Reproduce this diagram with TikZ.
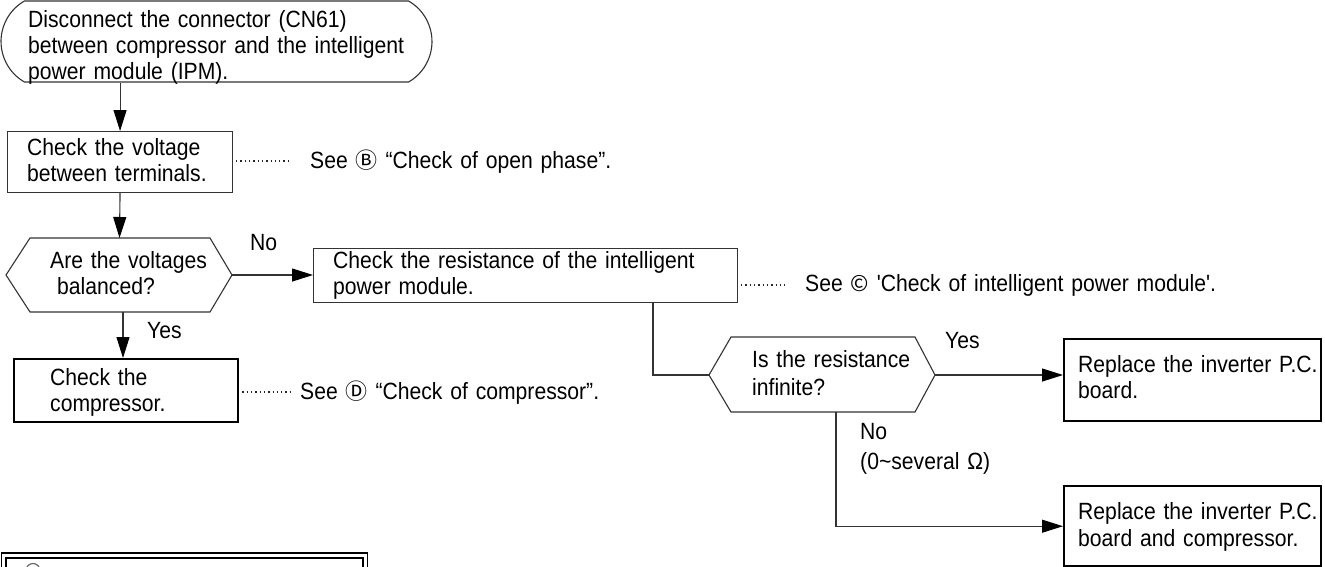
\documentclass[tikz,border=0pt]{standalone}
\usepackage{fontspec}
\newfontfamily\mainf[FakeStretch=0.9]{Liberation Sans}
\newfontfamily\symf{Noto Sans CJK SC}
\newcommand\encl[1]{{\symf\fontsize{22}{26}\selectfont #1}}
\usetikzlibrary{arrows.meta,shapes.misc}
\begin{document}
\begin{tikzpicture}[x=1pt,y=-1pt,
  ln/.style={line width=1.1pt, draw=black!80},
  thinbox/.style={ln, rectangle, inner sep=0pt, anchor=north west},
  thickbox/.style={line width=2.4pt, draw=black, rectangle, inner sep=0pt, anchor=north west},
  startbox/.style={ln, rounded rectangle, rounded rectangle arc length=120, inner sep=0pt, minimum width=431pt, minimum height=81pt},
  txt/.style={anchor=base west, inner sep=0pt, text width=#1, align=left, font=\mainf\fontsize{23.5}{26}\selectfont},
  txt/.default=260pt,
  arr/.style={ln, -{Triangle[length=21pt,width=13pt,fill=black,color=black]}},
  lead/.style={line width=1.3pt, dash pattern=on 1.3pt off 3pt, draw=black!85}
]
\useasboundingbox (0,0) rectangle (1325,566);

% start terminal
\node[startbox] (b1) at (216.5,41.5) {};
\node[txt=400pt] (t1) at (28,27) {Disconnect the connector (CN61)\\between compressor and the intelligent\\power module (IPM).};

% check voltage
\node[thinbox, minimum width=225pt, minimum height=61pt] (b2) at (7,131) {};
\node[txt] (t2) at (27,155) {Check the voltage\\between terminals.};

% decision 1
\draw[ln] (6,275) coordinate (h1w) -- (30,238) -- (210,238) -- (232,275) coordinate (h1e) -- (210,312) -- (30,312) -- cycle;
\coordinate (h1n) at (119.5,238);
\coordinate (h1s) at (123,312);
\node[txt] (t3) at (50,268) {Are the voltages\\\hspace*{7pt}balanced?};

% check compressor
\node[thickbox, minimum width=224pt, minimum height=63pt] (b3) at (13,358) {};
\node[txt] (t4) at (50,385) {Check the\\compressor.};

% check resistance
\node[thinbox, minimum width=424pt, minimum height=54pt] (b4) at (313,248) {};
\node[txt=400pt] (t5) at (333,268) {Check the resistance of the intelligent\\power module.};

% decision 2
\draw[ln] (709,375) coordinate (h2w) -- (731,337) -- (915,337) -- (935,375) coordinate (h2e) -- (915,412) -- (731,412) -- cycle;
\coordinate (h2s) at (836,412);
\node[txt=170pt] (t6) at (752,367) {Is the resistance\\[2pt]infinite?};

% results
\node[thickbox, minimum width=257pt, minimum height=82pt] (b5) at (1063,338) {};
\node[txt=240pt] (t7) at (1078,372) {Replace the inverter P.C.\\board.};
\node[thickbox, minimum width=257pt, minimum height=80pt] (b6) at (1063,485) {};
\node[txt=240pt] (t8) at (1078,519) {Replace the inverter P.C.\\[1pt]board and compressor.};

% bottom (cut) box
\node[draw, line width=1.5pt, rectangle, inner sep=0pt, anchor=north west, minimum width=365.7pt, minimum height=60pt] (b7) at (0.8,552) {};
\node[draw, line width=2.4pt, rectangle, inner sep=0pt, anchor=north west, minimum width=357pt, minimum height=60pt] (b7i) at (4.5,556.5) {};
\draw[line width=1.2pt, black!60] (33,570.5) circle[radius=7pt];

% connectors
\draw[arr] (b1.south -| b2.north) -- (b2.north);
\draw[arr] (b2.south) -- (h1n);
\draw[arr] (h1e) -- (h1e -| b4.west);
\draw[arr] (h1s) -- (h1s |- b3.north);
\coordinate (k1) at (653,0);
\draw[ln] (b4.south -| k1) |- (h2w);
\draw[arr] (h2e) -- (h2e -| b5.west);
\draw[arr] (h2s) |- (b6.west);

% branch labels
\node[txt=60pt] (l1) at (250,250) {No};
\node[txt=60pt] (l2) at (147,338) {Yes};
\node[txt=60pt] (l3) at (945,348) {Yes};
\node[txt=60pt] (l4) at (860,439) {No};
\node[txt=200pt] (l5) at (860,469) {(0\textasciitilde several Ω)};

% references
\node[txt=400pt] (s2) at (310,168) {See \encl{Ⓑ} “Check of open phase”.};
\draw[lead] (s2.west -| b2.east) ++(3,0) -- ([xshift=-22pt]s2.west);
\node[txt=480pt] (s4) at (805,291) {See \encl{©} 'Check of intelligent power module'.};
\draw[lead] (s4.west -| b4.east) ++(3,0) -- ([xshift=-17pt]s4.west);
\node[txt=400pt] (s3) at (300,399) {See \encl{Ⓓ} “Check of compressor”.};
\draw[lead] (s3.west -| b3.east) ++(3,0) -- ([xshift=-10pt]s3.west);
\end{tikzpicture}
\end{document}
